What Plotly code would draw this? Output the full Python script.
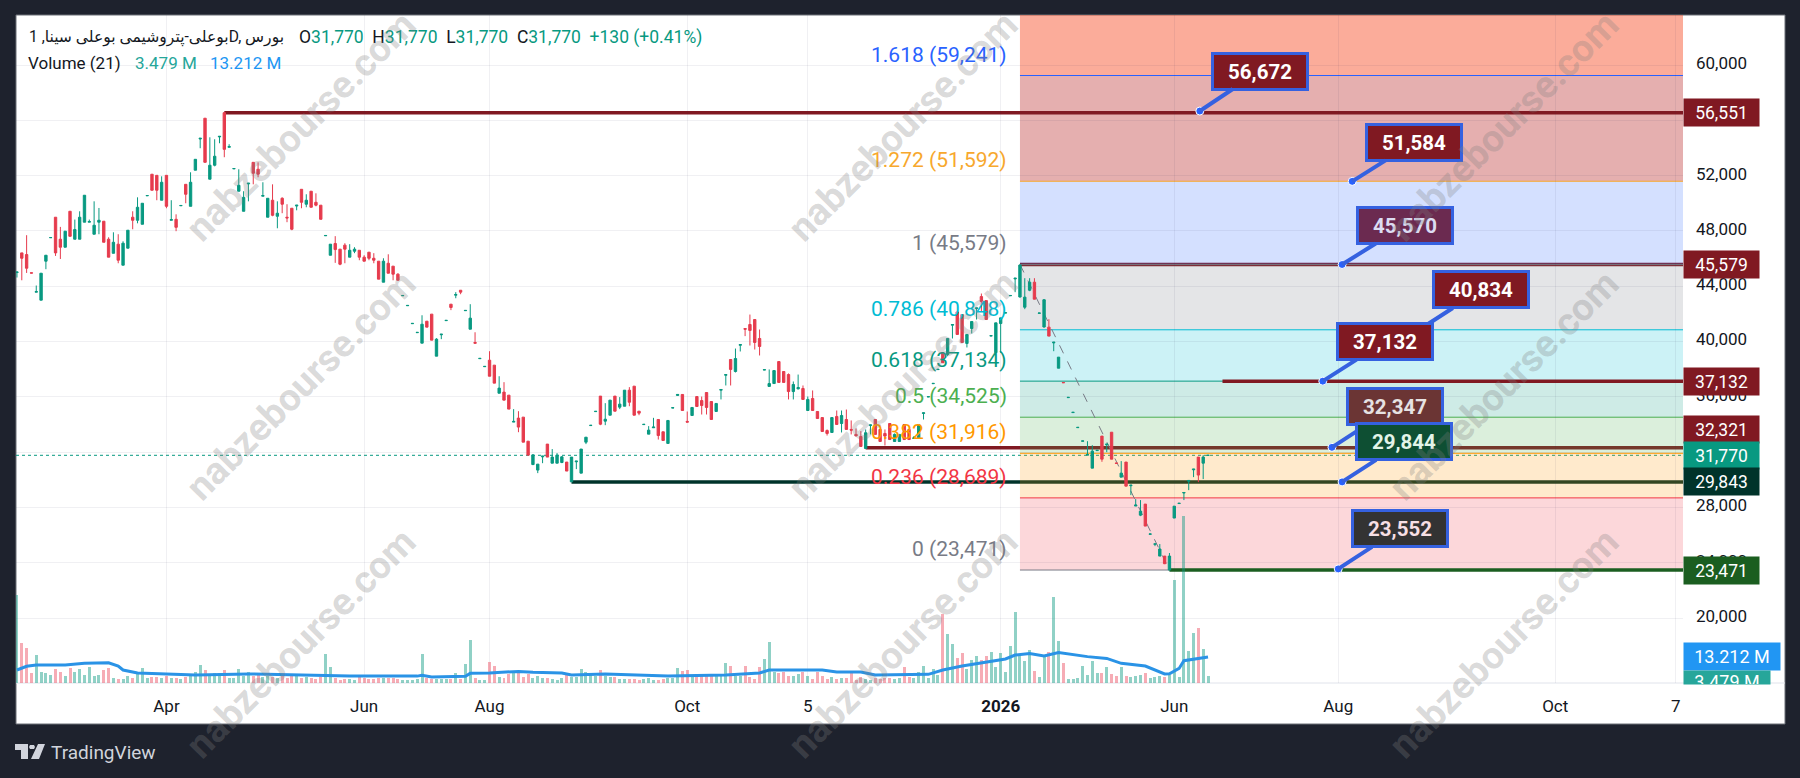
import plotly.graph_objects as go

opens = [
44990,46410,46290,44970,43570,42990,45810,47510,48990,47400,
46820,49420,47400,47400,48630,48630,47760,48630,48700,47400,
46380,47040,45520,46750,48990,48770,48480,50540,52100,52020,
50220,52020,48770,48840,49820,51370,49780,52390,54650,56150,
51740,52750,54800,56550,54050,52490,50870,49420,51400,52960,
52460,50510,48990,50220,49060,50360,48990,49640,49800,51010,
49930,50870,50070,49860,47650,46240,47090,46680,46970,46100,
46530,46600,46100,46460,46020,45810,44290,45660,45450,44870,
43310,42590,41290,40640,39880,41470,41980,38940,40490,41510,
42700,43350,43710,42230,40890,39930,38760,38180,38650,38290,
36260,36340,36120,34170,34460,34530,32790,31100,30700,31660,
32580,31200,31200,31250,31280,29850,31300,30480,32720,33920,
34930,36050,34240,34670,36050,35250,35320,36480,36770,34960,
33990,33300,33760,34360,33470,32630,35190,36100,36170,34220,
34650,36020,35730,36310,35660,34940,36480,37560,38700,37830,
39730,40940,41230,41590,40220,37940,36750,36960,38550,37830,
37610,36380,36580,36600,35010,35880,34940,34500,33560,33420,
34580,34070,34360,33640,33280,33130,32260,33920,34360,33640,
33350,34070,32770,32770,34000,33640,32990,32990,34800,35990,
36950,37970,39180,39060,41180,42140,41950,39860,40940,42390,
43250,42960,40400,39200,41300,42060,43310,44530,43220,42480,
43710,44290,42040,41050,41040,39900,38070,37040,35940,34860,
33770,32790,31780,30840,32110,33160,32530,33440,31210,30190,
31280,29570,28100,27440,28240,26060,25340,24480,24480,23471,
27230,28280,29040,29900,30720,31640,31200,31770]
highs = [
45030,46410,47690,44970,44050,44940,46240,47520,48990,48290,
47980,49420,48820,49420,50580,48820,50140,49660,48700,47540,
47900,47760,47250,48050,49420,50430,50000,50560,52100,52020,
51950,52020,50220,49200,49840,51370,52240,53180,54700,56150,
54770,54630,54840,56551,54270,52510,52460,50870,51450,52960,
52960,51520,50360,51370,50140,50430,49930,49640,49860,51010,
50650,50870,50720,49860,47670,47040,47620,46680,47110,47040,
46820,46600,46240,46460,46390,45810,46020,46310,45450,44940,
43330,42610,41310,40660,41900,41470,41980,40240,40530,41530,
42700,43570,43710,42250,42700,40670,38780,38200,39300,38290,
37490,37060,36120,35110,34960,34530,32790,31850,31130,31710,
32580,32220,31930,31710,31280,31640,31350,32220,33080,33940,
34950,36050,35540,35760,36050,35980,36480,36700,36770,34960,
34010,33880,34480,34360,33470,34290,35210,36170,36170,34940,
35230,36020,36020,36310,35660,35520,36530,37610,38700,39490,
39780,40940,41950,41590,40870,37960,37980,37900,38550,37830,
37690,37110,37610,36820,36020,36460,34940,34500,33640,34500,
35010,35010,35080,34290,33710,33520,33640,33970,34360,33640,
33640,34070,33350,33280,34000,33640,33160,34000,34840,36010,
36970,37990,39180,40220,41230,42140,41950,40510,41450,42430,
43470,42960,40420,41350,41710,42080,43330,44580,45579,44580,
44580,44580,42060,43060,41610,39950,38870,37040,35960,34880,
33790,32810,32790,32500,32130,33160,32580,33440,31210,31350,
31280,29610,28600,28530,28240,26080,25360,25350,24480,24700,
28090,28300,29080,29950,30770,31640,31780,31770]
lows = [
44630,44430,44960,44950,43570,42990,45230,47510,46190,45970,
46820,47610,47400,47400,48630,48630,47760,47760,47180,46100,
46380,45660,45520,46750,48120,48550,48480,50540,50940,50220,
50220,49640,48770,47980,49820,50000,49780,52390,53980,52960,
51740,52670,54340,53330,54050,52490,50870,49420,50140,51370,
51880,50510,48990,49060,48190,49280,48630,48050,49490,49640,
49710,49710,49780,48840,47650,46240,45690,45520,45660,46100,
46390,45880,45810,45880,45660,44510,44290,44940,44430,44430,
43310,42590,41290,40640,39880,41040,40100,38940,40170,41510,
42270,43130,43420,42230,40890,39880,38760,38180,37490,36990,
36260,35760,35110,34170,33440,32720,31780,31060,30480,31200,
31640,31200,31200,31200,30630,29843,30770,30480,32580,33920,
34930,33950,33950,34670,34960,35110,35320,35320,34670,34670,
33990,33300,33760,32910,32840,32630,35190,36100,35010,34170,
34650,35300,34720,34720,34360,34940,35810,36820,36820,37760,
39280,40390,39710,39420,38990,37940,36750,36960,37040,37040,
35810,35810,36530,35810,35010,35010,34430,33490,33200,33420,
34000,33420,33640,33280,33130,32410,32260,33280,33280,32770,
32480,32910,32770,32770,32910,32910,32990,32990,34360,35990,
36950,37970,38460,38940,40220,40510,39930,39570,40580,41590,
42190,41590,40400,39200,39180,42060,43310,43570,43180,42340,
43640,43060,42040,41010,40390,39300,38070,37020,35940,34860,
33770,32790,31780,30840,32110,31300,32000,31490,31190,30190,
29540,28890,28100,27370,26650,26060,25200,24480,23900,23471,
27230,28280,28530,29250,30190,29830,30050,31770]
closes = [
45030,46020,45300,44950,43610,44940,46240,47520,46410,46820,
47980,47610,48100,48990,50580,48680,48410,48770,47180,46100,
47180,45880,47110,48050,48770,49710,50000,50560,50940,50940,
51520,49780,48820,48260,49840,50650,51520,53180,54700,52960,
52750,53400,54840,53900,54100,52510,51300,50430,51450,52170,
52100,50560,50360,49130,49280,49930,48940,48120,49860,50070,
50220,49710,49860,48840,47670,47040,46650,45590,46680,46600,
46680,46100,45810,46020,45880,44510,45810,44940,44870,44430,
43330,42610,41310,40660,41250,41040,40100,40170,40530,41530,
42460,43400,43570,42250,41690,39880,38780,38200,37490,36990,
36630,35760,35110,34220,33810,32720,31780,31800,31130,31710,
31640,31640,31780,31660,30630,31640,31350,32220,33080,33940,
34950,34020,34380,35760,34960,35470,36480,35610,34670,34820,
34010,33590,33810,33200,32840,34290,35210,36170,35010,34170,
35230,35300,35370,35230,34360,35520,36530,37610,37980,38770,
39780,40890,40800,39930,39640,37960,36960,37900,37040,37040,
36380,36890,36670,35810,35810,35010,34430,33490,33350,34500,
34000,34650,33640,33590,33180,32410,33400,33970,33280,32770,
33160,32910,33280,33280,32910,32910,33030,34000,34840,36010,
36970,37990,38460,40220,41230,40510,39930,40510,41450,42430,
42890,41590,40420,41350,41710,42080,43330,44580,45530,43210,
44290,43060,42060,43020,40390,39950,38870,37020,35960,34880,
33790,32810,31830,32070,32130,31490,32580,31490,31190,30480,
29540,29610,28170,27730,26650,26080,25360,24990,23930,24480,
28090,28300,29080,29950,30770,30340,31640,31770]
volumes = [
44.6,20.1,17.6,5.1,14.2,5.6,5.1,4.1,7.1,5.6,
3.5,7.6,5.6,7.1,4.1,8.1,3.5,4.1,6.6,7.6,
2.5,2.0,2.0,3.5,2.5,4.6,7.6,2.5,3.0,3.0,
2.5,3.5,2.5,2.5,2.0,3.0,3.5,5.6,9.1,6.6,
4.1,4.9,5.1,6.6,2.5,2.5,7.1,3.5,5.6,3.5,
4.1,2.9,3.5,3.0,2.5,4.1,2.5,3.5,4.1,2.5,
3.0,2.5,2.0,3.0,14.7,8.1,2.5,1.5,2.0,2.0,
1.5,3.0,2.5,2.0,2.0,2.5,2.5,2.5,2.5,2.0,
1.5,1.5,1.5,2.0,14.7,2.5,2.0,2.0,2.0,2.0,
2.0,5.1,2.0,9.6,21.8,2.5,1.5,1.5,10.6,8.6,
3.0,2.5,4.6,5.1,5.1,3.0,4.6,2.5,3.5,2.5,
2.5,2.0,1.5,2.5,4.6,3.0,3.0,7.1,5.6,4.6,
3.5,6.6,3.5,3.0,3.0,2.0,2.0,2.0,2.0,1.5,
2.0,2.5,1.5,1.5,2.0,2.5,2.5,7.6,6.1,6.6,
3.5,4.6,4.6,4.6,3.5,4.6,4.6,10.1,8.6,3.5,
3.5,8.6,3.0,2.0,8.1,12.2,20.8,5.6,5.1,5.6,
3.5,3.5,4.6,5.6,3.5,2.0,5.6,3.5,2.0,3.0,
2.0,2.5,2.5,5.6,1.5,3.0,2.0,1.5,2.5,2.0,
2.5,2.5,2.0,2.5,8.1,3.0,2.5,5.6,8.6,2.5,
7.1,4.1,35.0,24.8,19.8,12.7,15.2,7.3,11.7,13.7,
11.7,13.7,15.7,8.1,15.2,5.6,18.8,36.0,13.7,11.2,
16.7,6.1,3.0,13.7,15.7,43.6,21.3,10.0,2.0,2.0,
2.7,8.6,4.0,11.2,4.9,5.1,7.9,4.6,3.5,8.1,
3.5,3.0,3.5,4.0,4.9,2.5,2.9,3.5,2.9,4.0,
52.3,2.9,84.8,16.2,25.4,27.9,17.2,3.479]

ma_idx = [0,2,4,10,14,19,21,22,25,32,37,48,59,69,83,84,86,93,94,98,104,107,113,115,122,135,147,154,156,167,170,175,178,189,192,196,205,207,210,213,216,222,226,229,234,238,239,241,242,247]
ma_vals = [6.6,8.5,9.1,9.1,10.0,10.3,8.6,6.6,5.1,4.6,4.1,4.6,4.1,3.5,3.5,3.9,3.0,3.4,4.9,5.1,5.9,5.5,5.1,4.1,4.6,3.5,4.1,5.1,6.6,6.6,5.6,5.6,4.1,4.4,6.6,8.6,12.2,14.2,15.0,13.7,15.5,13.4,12.5,10.0,8.6,4.6,4.7,7.4,11.3,13.212]

fib_ratios = ["1.618","1.272","1","0.786","0.618","0.5","0.382","0.236","0"]
fib_prices = [59241,51592,45579,40848,37134,34525,31916,28689,23471]
fib_text_colors = ["#2962ff","#f7a82d","#787b86","#00bcd4","#089981","#4caf50","#ff9800","#f23645","#787b86"]
fib_fills = ["rgba(246,71,31,0.45)","rgba(190,55,55,0.4)","rgba(41,98,255,0.2)","rgba(120,123,134,0.2)",
             "rgba(0,188,212,0.2)","rgba(8,153,129,0.2)","rgba(76,175,80,0.2)","rgba(255,152,0,0.2)","rgba(242,54,69,0.2)"]
fib_start = 208

lvl_under = [(176,32321,"#801922"),(115,29843,"#00332a"),(208,45579,"#801922")]
lvl_over = [(43,56551,"#801922"),(250,37132,"#801922"),(239,23471,"#1b5e20")]

call_x = [245.3,276.9,274.8,290.7,270.8,272.7,274.8,274.0]
call_p = [56672,51584,45570,40834,37132,32347,29844,23552]
call_fill = ["#801922","#801922","#6b2a50","#801922","#801922","#6b3534","#0e4f33","#333333"]
call_font = ["#ffffff","#ffffff","#dcdcf2","#ffffff","#ffffff","#e6e2e2","#e2f4e8","#f7dfe4"]
call_ax = [60,62,62.5,62,62,63,62,61.5]
call_ay = [-40,-39,-39,-40,-39.5,-41,-40,-40]

tag_vals = [56551,45579,37132,32321,31770,29843,23471]
tag_cols = ["#801922","#801922","#801922","#801922","#089981","#00332a","#1b5e20"]
tag_shift = [0,0,0,18,0,0,0]

tick_idx = [31,72,98,139,164,204,240,274,319,344]
tick_txt = ["Apr","Jun","Aug","Oct","5","<b>2026</b>","Jun","Aug","Oct","7"]
price_ticks = [60000,56000,52000,48000,44000,40000,36000,32000,28000,24000,20000]

assert all(len(a) == 248 for a in (opens, highs, lows, closes, volumes))

W, H = 1800, 778
L, R, T, B = 16, 1683, 15, 683
XR = [-0.2, 345.5]
YR = [15300, 63617]
LABEL_LIFT = 145  # the tick text sits 2px above its gridline in the reference
px = lambda x: (x - L) / (R - L)
py = lambda y: 1 - (y - T) / (B - T)
FONT = "Roboto, 'Noto Sans', 'DejaVu Sans', sans-serif"
GREEN, RED = "#089981", "#e63b4d"
GRID = "rgba(42,46,87,0.07)"
idx = list(range(len(opens)))

fig = go.Figure()
fig.add_trace(go.Bar(x=idx, y=volumes, width=0.62, yaxis="y",
                     marker=dict(color=["rgba(8,153,129,0.45)" if c >= o else "rgba(236,70,90,0.45)" for o, c in zip(opens, closes)], line_width=0),
                     hoverinfo="skip", showlegend=False))
fig.add_trace(go.Scatter(x=ma_idx, y=ma_vals, yaxis="y", mode="lines", line=dict(color="#2a93e6", width=3), hoverinfo="skip", showlegend=False))
fig.add_trace(go.Candlestick(x=idx, open=opens, high=highs, low=lows, close=closes, yaxis="y2", whiskerwidth=0,
                             increasing=dict(line=dict(color=GREEN, width=1), fillcolor=GREEN),
                             decreasing=dict(line=dict(color=RED, width=1), fillcolor=RED),
                             hoverinfo="skip", showlegend=False))
fig.add_trace(go.Scatter(x=call_x, y=call_p, yaxis="y2", mode="markers", cliponaxis=False,
                         marker=dict(size=8, color="#2962ff", line=dict(color="#ffffff", width=1)), hoverinfo="skip", showlegend=False))
fig.add_trace(go.Scatter(x=[-5], y=[40000], yaxis="y3", mode="lines", hoverinfo="skip", showlegend=False))

shapes = [
    dict(type="rect", xref="paper", yref="paper", x0=0, x1=(1785 - L) / (R - L), y0=py(724), y1=1, layer="below",
         fillcolor="#ffffff", line=dict(color="#6b6e76", width=1)),
    dict(type="line", xref="paper", yref="paper", x0=0, x1=(1785 - L) / (R - L), y0=0, y1=0, layer="below", line=dict(color="#e0e3eb", width=1)),
]
for x0, p, c in lvl_under:
    shapes.append(dict(type="line", xref="x", yref="y2", x0=x0, x1=XR[1], y0=p, y1=p, layer="below", line=dict(color=c, width=3.5)))
tops = [YR[1]] + fib_prices[:-1]
for top, bot, fill in zip(tops, fib_prices, fib_fills):
    shapes.append(dict(type="rect", xref="x", yref="y2", x0=fib_start, x1=XR[1], y0=bot, y1=top, layer="below", fillcolor=fill, line_width=0))
for p, c in zip(fib_prices, fib_text_colors):
    shapes.append(dict(type="line", xref="x", yref="y2", x0=fib_start, x1=XR[1], y0=p, y1=p, layer="below", line=dict(color=c, width=1)))
for x0, p, c in lvl_over:
    shapes.append(dict(type="line", xref="x", yref="y2", x0=x0, x1=XR[1], y0=p, y1=p, layer="below", line=dict(color=c, width=3.5)))
shapes.append(dict(type="line", xref="paper", yref="y2", x0=0, x1=1, y0=31770, y1=31770, layer="below", line=dict(color=GREEN, width=1, dash="dot")))
shapes.append(dict(type="line", xref="x", yref="y2", x0=208, x1=239, y0=45579, y1=23471, layer="below", line=dict(color="#787b86", width=1, dash="dash")))
def logo(points):
    return "M" + " L".join(f"{px(x):.5f},{py(y):.5f}" for x, y in points) + " Z"
for pts in ([(15, 744), (28, 744), (28, 759), (21, 759), (21, 750), (15, 750)], [(38, 744), (45, 744), (39, 759), (31, 759)],
            [(30, 745), (34, 745), (35, 747), (34, 749), (30, 749), (29, 747)]):
    shapes.append(dict(type="path", xref="paper", yref="paper", path=logo(pts), fillcolor="#d1d4dc", line_width=0, layer="above"))

ann = []
def ptext(x, y, text, size, color="#131722", anchor="left"):
    ann.append(dict(xref="paper", yref="paper", x=px(x), y=py(y), text=text, showarrow=False, xanchor=anchor, yanchor="middle",
                    font=dict(family=FONT, size=size, color=color)))

for r, p, c in zip(fib_ratios, fib_prices, fib_text_colors):
    ann.append(dict(xref="x", yref="y2", x=fib_start, y=p, xshift=-11, yshift=21, xanchor="right", yanchor="middle", showarrow=False,
                    text=f"{r} ({p:,})", font=dict(family=FONT, size=21, color=c)))

G = "<span style='color:#089981'>{}</span>"
ptext(27, 38, "بوعلی-پتروشیمی بوعلی سینا, 1D, بورس", 15.6)
ptext(297, 38, "O" + G.format("31,770") + "\u00a0\u00a0H" + G.format("31,770") + "\u00a0\u00a0L" + G.format("31,770") + "\u00a0\u00a0C" + G.format("31,770")
      + "\u00a0\u00a0" + G.format("+130 (+0.41%)"), 17.5)
ptext(26, 63, "Volume (21)", 17)
ptext(133, 63, "3.479 M", 17, "#26a69a")
ptext(208, 63, "13.212 M", 17, "#2196f3")
ptext(49, 752, "TradingView", 19, "#d1d4dc")

for x, p, f, fc, ax, ay in zip(call_x, call_p, call_fill, call_font, call_ax, call_ay):
    ann.append(dict(xref="x", yref="y2", x=x, y=p, ax=ax, ay=ay, axref="pixel", ayref="pixel", showarrow=True, arrowhead=0, arrowwidth=4,
                    arrowcolor="#3561e0", standoff=0, text=f"<b>{p:,}</b>", width=92, height=33, bgcolor=f, bordercolor="#3561e0",
                    borderwidth=3, borderpad=0, align="center", valign="middle", font=dict(family=FONT, size=20.5, color=fc)))

for p, c, s in zip(tag_vals, tag_cols, tag_shift):
    ann.append(dict(xref="paper", yref="y2", x=1, y=p, yshift=s, xanchor="left", yanchor="middle", showarrow=False, text=f"{p:,}", width=75, height=27,
                    bgcolor=c, borderpad=0, align="center", valign="middle", font=dict(family=FONT, size=17.5, color="#ffffff")))
ann.append(dict(xref="paper", yref="y", x=1, y=13.212, xanchor="left", yanchor="middle", showarrow=False, text="13.212 M", width=96, height=27,
                bgcolor="#2196f3", borderpad=0, align="center", valign="middle", font=dict(family=FONT, size=18, color="#ffffff")))
ann.append(dict(xref="paper", yref="paper", x=1, y=py(670), xanchor="left", yanchor="top", showarrow=False, text="3.479 M", width=86, height=13,
                bgcolor="#26a69a", borderpad=0, align="center", valign="top", font=dict(family=FONT, size=18, color="#ffffff")))

for wy in (126, 385, 643):
    for wx in (301, 903, 1504):
        ann.append(dict(xref="paper", yref="paper", x=px(wx), y=py(wy), xanchor="center", yanchor="middle", showarrow=False, textangle=-45,
                        text="<b>nabzebourse.com</b>", font=dict(family=FONT, size=38, color="rgba(128,128,128,0.3)")))

fig.update_layout(
    width=W, height=H, margin=dict(l=L, r=W - R, t=T, b=H - B), paper_bgcolor="#1e222d", plot_bgcolor="rgba(0,0,0,0)",
    showlegend=False, bargap=0, shapes=shapes, annotations=ann, font=dict(family=FONT, color="#131722", size=17), dragmode=False,
    xaxis=dict(range=XR, tickmode="array", tickvals=tick_idx, ticktext=tick_txt, showgrid=True, gridcolor=GRID, gridwidth=1, zeroline=False,
               showline=False, ticks="", ticklabelstandoff=11, rangeslider=dict(visible=False), tickfont=dict(family=FONT, size=17, color="#131722")),
    yaxis=dict(range=[0, 339.3], showgrid=False, zeroline=False, showticklabels=False, ticks=""),
    yaxis2=dict(range=YR, overlaying="y", side="right", tickmode="array", tickvals=price_ticks, showticklabels=False, showgrid=True,
                gridcolor=GRID, zeroline=False, ticks=""),
    yaxis3=dict(range=[YR[0] - LABEL_LIFT, YR[1] - LABEL_LIFT], overlaying="y", side="right", tickmode="array", tickvals=price_ticks,
                ticktext=[f"{v:,}" for v in price_ticks], showgrid=False, zeroline=False, ticks="", ticklabelstandoff=12,
                tickfont=dict(family=FONT, size=17, color="#131722")),
)
fig.write_html("out.html", config=dict(displayModeBar=False), post_script="document.body.style.margin='0';document.body.style.overflow='hidden';")
